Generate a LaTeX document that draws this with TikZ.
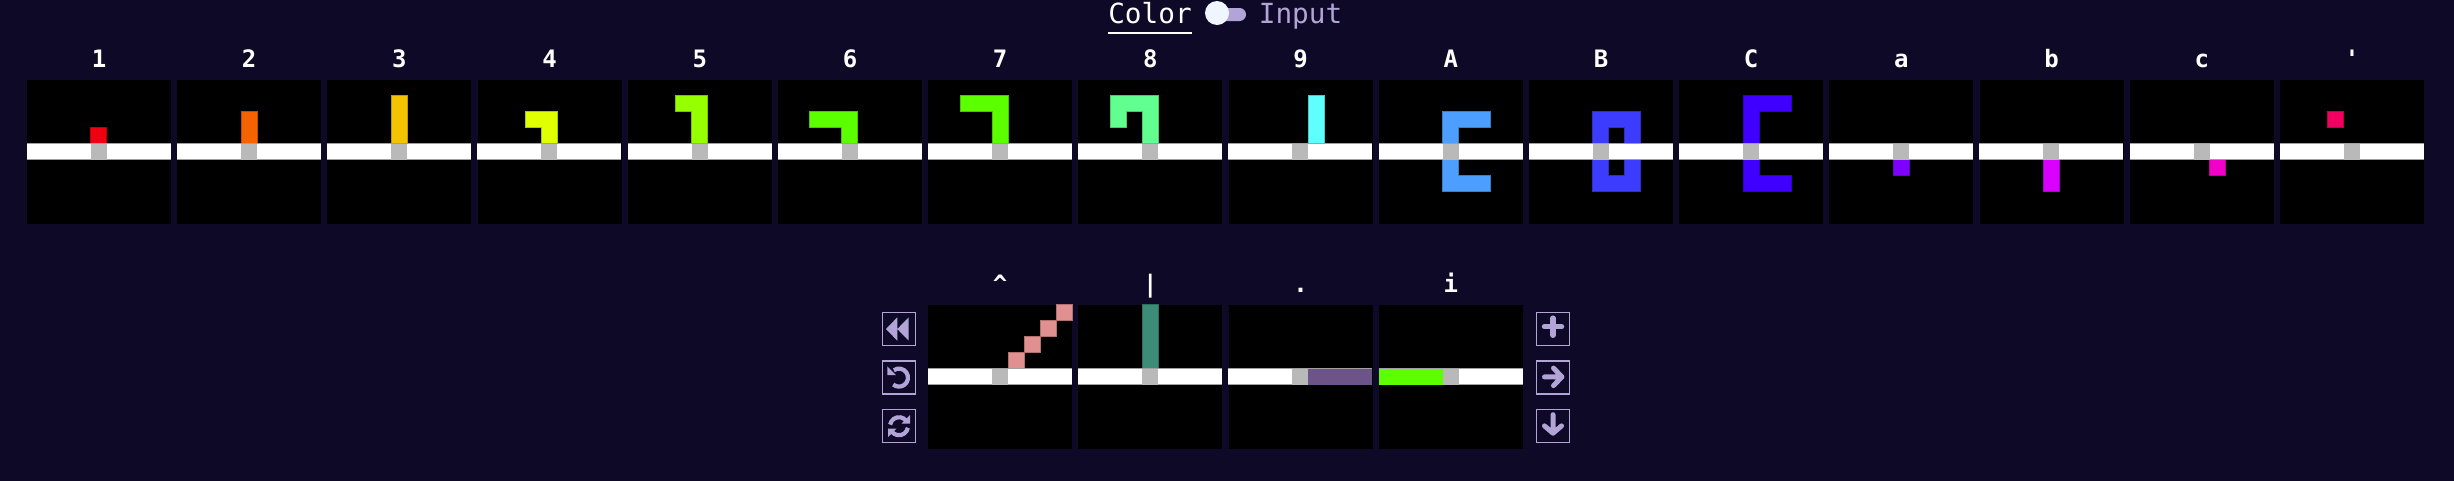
\documentclass[tikz,border=0pt]{standalone}
\usepackage{fontspec}
\usetikzlibrary{positioning}
\newfontfamily\monofont{DejaVu Sans Mono}

\definecolor{pagebg}{HTML}{0E0926}
\definecolor{lilac}{HTML}{B3A4D8}
\definecolor{knobcol}{HTML}{F0F6FF}
\definecolor{bandedge}{HTML}{A0A0A0}
\definecolor{headcol}{HTML}{B9B9B9}
\definecolor{cone}{HTML}{F00010}
\definecolor{ctwo}{HTML}{F56300}
\definecolor{cthree}{HTML}{F5C400}
\definecolor{cfour}{HTML}{E0FF00}
\definecolor{cfive}{HTML}{96FF00}
\definecolor{csix}{HTML}{5CFF00}
\definecolor{ceight}{HTML}{60FF90}
\definecolor{cnine}{HTML}{60FFFF}
\definecolor{cupa}{HTML}{4D9FFF}
\definecolor{cupb}{HTML}{3C3CFF}
\definecolor{cupc}{HTML}{4000FF}
\definecolor{clowa}{HTML}{8000FF}
\definecolor{clowb}{HTML}{D800FF}
\definecolor{clowc}{HTML}{F000C8}
\definecolor{cquote}{HTML}{F00060}
\definecolor{ccaret}{HTML}{E09090}
\definecolor{cbar}{HTML}{3C8C78}
\definecolor{cdot}{HTML}{6C5488}

\tikzset{
  tile/.style={fill=black,inner sep=0pt,minimum size=144pt},
  tilename/.style={anchor=base,inner sep=0pt,text=white,font=\monofont\bfseries\fontsize{24}{24}\selectfont},
  modetext/.style={anchor=base,inner sep=0pt,font=\monofont\fontsize{27.7}{28}\selectfont},
  btn/.style={draw=lilac,line width=1.3pt,inner sep=0pt,minimum size=33pt},
  glyph/.style={even odd rule,fill=#1,draw=#1!78!black,line width=1pt},
  icon/.style={draw=lilac,line width=#1,line cap=round,line join=round},
  iconarc/.style={draw=lilac,line width=4.2pt}
}

% #1 name, #2 placement, #3 label, #4 colour, #5 cells
\newcommand{\tilepic}[5]{
  \node[tile,#2] (#1) {};
  \node[tilename,yshift=12pt] (#1n) at (#1.north) {#3};
  \begin{scope}[shift={(#1.north west)},x=16pt,y=-16pt]
    \path[glyph=#4] #5;
    \fill[white] (0,4) rectangle (9,5);
    \draw[bandedge,line width=1pt] (0,4) -- (9,4) (0,5) -- (9,5);
    \fill[headcol] (4,4) rectangle (5,5);
  \end{scope}
}
\newcommand{\tilebar}[3]{
  \fill[#2,shift={(#1.north west)},x=16pt,y=-16pt] #3;
}

\begin{document}
\begin{tikzpicture}[x=1pt,y=-1pt,node distance=150.2pt,on grid]
  \useasboundingbox (0,0) rectangle (2454,480);
  \fill[pagebg] (-4,-4) rectangle (2458,484);

  \node[modetext,text=white] (colorlbl) at (1150,23.5) {Color};
  \node[modetext,text=lilac] (inputlbl) at (1300.5,23.5) {Input};
  \draw[white,line width=1.3pt] ([yshift=-9pt]colorlbl.south west) -- ([yshift=-9pt]colorlbl.south east);
  \node[fill=lilac,inner sep=0pt,minimum width=34pt,minimum height=13pt,rounded corners=6.4pt] (track) at (1229,14.5) {};
  \node[circle,fill=knobcol,inner sep=0pt,minimum size=24pt] (knob) at (1217,13) {};

  \tilepic{t1}{at={(99,152)}}{1}{cone}{(4,3) rectangle (5,4)}
  \tilepic{t2}{right=of t1}{2}{ctwo}{(4,2) rectangle (5,4)}
  \tilepic{t3}{right=of t2}{3}{cthree}{(4,1) rectangle (5,4)}
  \tilepic{t4}{right=of t3}{4}{cfour}{(3,2) -- (5,2) -- (5,4) -- (4,4) -- (4,3) -- (3,3) -- cycle}
  \tilepic{t5}{right=of t4}{5}{cfive}{(3,1) -- (5,1) -- (5,4) -- (4,4) -- (4,2) -- (3,2) -- cycle}
  \tilepic{t6}{right=of t5}{6}{csix}{(2,2) -- (5,2) -- (5,4) -- (4,4) -- (4,3) -- (2,3) -- cycle}
  \tilepic{t7}{right=of t6}{7}{csix}{(2,1) -- (5,1) -- (5,4) -- (4,4) -- (4,2) -- (2,2) -- cycle}
  \tilepic{t8}{right=of t7}{8}{ceight}{(2,1) -- (5,1) -- (5,4) -- (4,4) -- (4,2) -- (3,2) -- (3,3) -- (2,3) -- cycle}
  \tilepic{t9}{right=of t8}{9}{cnine}{(5,1) rectangle (6,4)}
  \tilepic{tA}{right=of t9}{A}{cupa}{(4,2) -- (7,2) -- (7,3) -- (5,3) -- (5,6) -- (7,6) -- (7,7) -- (4,7) -- cycle}
  \tilepic{tB}{right=of tA}{B}{cupb}{(4,2) rectangle (7,7) (5,3) rectangle (6,6)}
  \tilepic{tC}{right=of tB}{C}{cupc}{(4,1) -- (7,1) -- (7,2) -- (5,2) -- (5,6) -- (7,6) -- (7,7) -- (4,7) -- cycle}
  \tilepic{tsa}{right=of tC}{a}{clowa}{(4,5) rectangle (5,6)}
  \tilepic{tsb}{right=of tsa}{b}{clowb}{(4,5) rectangle (5,7)}
  \tilepic{tsc}{right=of tsb}{c}{clowc}{(5,5) rectangle (6,6)}
  \tilepic{tq}{right=of tsc}{'}{cquote}{(3,2) rectangle (4,3)}

  \tilepic{tup}{below=225pt of t7}{\textasciicircum}{ccaret}{(5,3) rectangle (6,4) (6,2) rectangle (7,3) (7,1) rectangle (8,2) (8,0) rectangle (9,1)}
  \tilepic{tbar}{right=of tup}{|}{cbar}{(4,0) rectangle (5,4)}
  \tilepic{tdot}{right=of tbar}{.}{black}{}
  \tilepic{tin}{right=of tdot}{i}{black}{}
  \tilebar{tdot}{cdot}{(5,4) rectangle (9,5)}
  \tilebar{tin}{csix}{(0,4) rectangle (4,5)}

  \node[btn] (brew) at (899,329) {};
  \node[btn,below=48.6pt of brew] (bundo) {};
  \node[btn,below=48.6pt of bundo] (bsync) {};
  \node[btn] (bplus) at (1553,329) {};
  \node[btn,below=48.6pt of bplus] (bright) {};
  \node[btn,below=48.6pt of bright] (bdown) {};

  \begin{scope}[shift={(brew.center)},x=1pt,y=1pt]
    \fill[lilac] (-13,0) -- (-1.7,11.7) -- (-1.7,-11.7) -- cycle (-1.7,0) -- (9.7,11.7) -- (9.7,-11.7) -- cycle;
  \end{scope}
  \begin{scope}[shift={(bundo.center)},x=1pt,y=1pt]
    \draw[iconarc] (125:9) arc[start angle=125,end angle=-130,radius=9pt];
    \fill[lilac] (-11.7,11.3) -- (-11.7,2.5) -- (-3,2.5) -- cycle;
  \end{scope}
  \begin{scope}[shift={(bsync.center)},x=1pt,y=1pt]
    \draw[iconarc] (170:9) arc[start angle=170,end angle=40,radius=9pt];
    \draw[iconarc] (-10:9) arc[start angle=-10,end angle=-140,radius=9pt];
    \fill[lilac] (11,11) -- (11,2.5) -- (2.5,2.5) -- cycle (-11,-11) -- (-11,-2.5) -- (-2.5,-2.5) -- cycle;
  \end{scope}
  \begin{scope}[shift={(bplus.center)},x=1pt,y=1pt]
    \draw[icon=5.5pt] (-8.5,2.3) -- (8.5,2.3) (0,10.8) -- (0,-6.2);
  \end{scope}
  \begin{scope}[shift={(bright.center)},x=1pt,y=1pt]
    \draw[icon=5pt] (-8.5,0.7) -- (8.5,0.7) (0.5,9.5) -- (8.9,0.7) -- (0.5,-8);
  \end{scope}
  \begin{scope}[shift={(bdown.center)},x=1pt,y=1pt]
    \draw[icon=5pt] (0,11.5) -- (0,-6.5) (-8.5,0.3) -- (0,-7) -- (8.5,0.3);
  \end{scope}
\end{tikzpicture}
\end{document}
